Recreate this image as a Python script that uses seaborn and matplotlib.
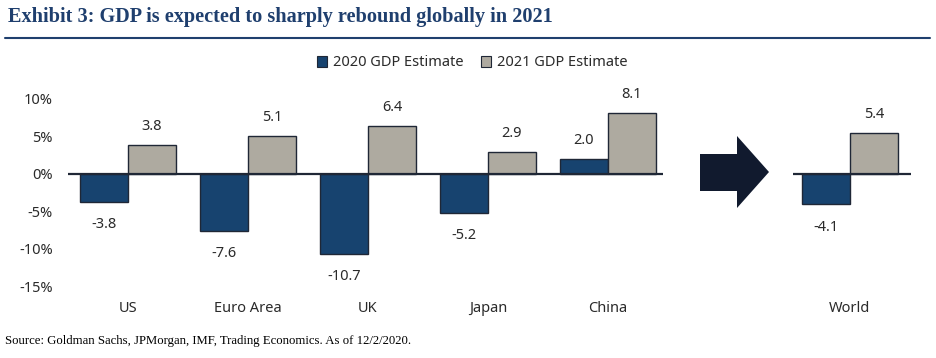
import matplotlib

matplotlib.use("Agg")
import matplotlib.pyplot as plt  # noqa: E402
import matplotlib.patches as mpatches  # noqa: E402
import pandas as pd
import seaborn as sns

# data
regions = ["US", "Euro Area", "UK", "Japan", "China"]
gdp_2020 = [-3.8, -7.6, -10.7, -5.2, 2.0]
gdp_2021 = [3.8, 5.1, 6.4, 2.9, 8.1]
world = ["World"]
world_2020 = [-4.1]
world_2021 = [5.4]
series = ["2020 GDP Estimate", "2021 GDP Estimate"]
yticks = [10, 5, 0, -5, -10, -15]

BLUE = "#17436f"
GRAY = "#aeaaa0"
EDGE = "#1f2736"
NAVY = "#1f3f6e"
TXT = "#2a2a2a"


def long_frame(cats, v20, v21):
    rows = [{"region": c, "series": series[0], "value": v} for c, v in zip(cats, v20)]
    rows += [{"region": c, "series": series[1], "value": v} for c, v in zip(cats, v21)]
    return pd.DataFrame(rows)


sns.set_theme(style="white")
plt.rcParams["font.family"] = ["Noto Sans", "DejaVu Sans"]

W, H = 937, 358
fig = plt.figure(figsize=(W / 100, H / 100), dpi=100)
fig.patch.set_facecolor("white")

y_top, y_bot = 84, 286
ax1 = fig.add_axes([68 / W, 1 - y_bot / H, (663 - 68) / W, (y_bot - y_top) / H])
ax2 = fig.add_axes([793 / W, 1 - y_bot / H, (911 - 793) / W, (y_bot - y_top) / H])

palette = {series[0]: BLUE, series[1]: GRAY}
for ax, df in [(ax1, long_frame(regions, gdp_2020, gdp_2021)),
               (ax2, long_frame(world, world_2020, world_2021))]:
    sns.barplot(data=df, x="region", y="value", hue="series", palette=palette,
                width=0.8, edgecolor=EDGE, linewidth=1.0, saturation=1,
                legend=False, ax=ax)
    for cont in ax.containers:
        for bar in cont:
            v = bar.get_height()
            ax.annotate(f"{v:.1f}", (bar.get_x() + bar.get_width() / 2, v),
                        xytext=(0, 8 if v >= 0 else -11), textcoords="offset points",
                        ha="center", va="bottom" if v >= 0 else "top",
                        fontsize=10.5, color=TXT)
    ax.axhline(0, color=EDGE, linewidth=1.6, zorder=3)
    ax.set_ylim(-15, 12)
    ax.set_xlabel("")
    ax.set_ylabel("")
    ax.tick_params(axis="x", length=0, pad=11, labelsize=10.5, labelcolor=TXT)
    for s in ax.spines.values():
        s.set_visible(False)
    ax.set_facecolor("none")

ax1.set_xlim(-0.5, 4.46)
ax2.set_xlim(-0.475, 0.51)
ax1.set_yticks(yticks)
ax1.set_yticklabels([f"{t}%" for t in yticks])
ax1.tick_params(axis="y", length=0, pad=11, labelsize=10.5, labelcolor=TXT)
ax2.set_yticks([])

# legend
handles = [mpatches.Patch(facecolor=palette[s], edgecolor=EDGE, linewidth=0.8, label=s)
           for s in series]
fig.legend(handles=handles, loc="center", bbox_to_anchor=(472 / W, 1 - 63 / H), ncol=2,
           frameon=False, fontsize=10.5, handlelength=0.7, handleheight=0.7,
           handletextpad=0.4, columnspacing=1.2, labelcolor=TXT)

# arrow between panels
px = [(700, 154), (737, 154), (737, 136), (769, 172), (737, 208), (737, 191), (700, 191)]
arrow = mpatches.Polygon([(x / W, 1 - y / H) for x, y in px], closed=True,
                         facecolor="#111a2e", edgecolor="none", transform=fig.transFigure)
fig.add_artist(arrow)

# title, rule, source
fig.text(8 / W, 1 - 17 / H, "Exhibit 3: GDP is expected to sharply rebound globally in 2021",
         family=["Liberation Serif", "DejaVu Serif"], fontweight="bold", fontsize=14.6,
         color=NAVY, va="center", ha="left")
fig.add_artist(plt.Line2D([5 / W, 930 / W], [1 - 38 / H, 1 - 38 / H], color=NAVY,
                          linewidth=1.5, transform=fig.transFigure))
fig.text(5 / W, 1 - 341 / H,
         "Source: Goldman Sachs, JPMorgan, IMF, Trading Economics. As of 12/2/2020.",
         family=["Liberation Serif", "DejaVu Serif"], fontsize=9.2, color="black",
         va="center", ha="left")

fig.savefig("out.png", dpi=100)
plt.close(fig)
